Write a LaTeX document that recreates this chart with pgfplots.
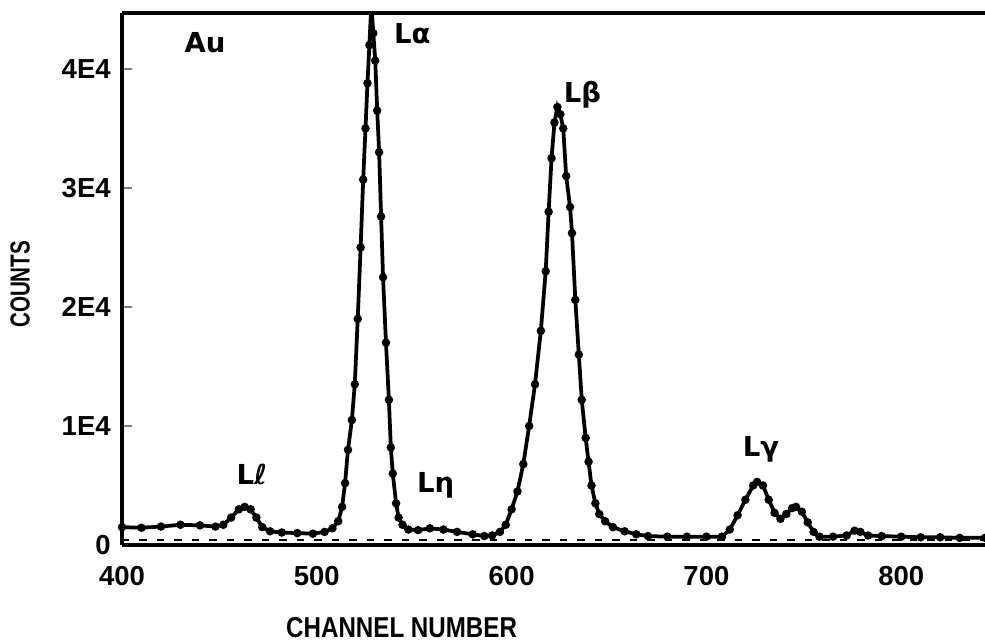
\documentclass[border=0pt]{standalone}
\usepackage{fontspec}
\setmainfont{Liberation Sans}
\newfontfamily\symfont{DejaVu Sans}
\usepackage{graphicx}
\usepackage{pgfplots}
\pgfplotsset{compat=1.18}

% Au L-shell spectrum: counts per channel
\begin{document}
\begin{tikzpicture}[x=1pt,y=1pt]
\useasboundingbox (-48.8,-39.2) rectangle (345.2,218.0);
\begin{axis}[
  scale only axis,
  width=345.2pt, height=212.8pt,
  xmin=400, xmax=843, ymin=0, ymax=44700,
  axis x line*=box, axis y line*=left,
  axis line style={line width=1.4pt},
  xtick={400,500,600,700,800},
  xtick style={draw=none},
  ytick={0,10000,20000,30000,40000},
  yticklabels={0,1E4,2E4,3E4,4E4},
  ytick style={line width=1pt},
  tick align=inside,
  major tick length=4pt,
  scaled y ticks=false,
  /pgf/number format/assume math mode=true,
  tick label style={font=\fontsize{11}{13}\selectfont\bfseries},
  xticklabel style={yshift=-5pt},
  yticklabel style={xshift=-1pt},
  clip mode=individual,
  xlabel={\scalebox{0.84}[1]{CHANNEL NUMBER}},
  xlabel style={at={(axis description cs:0.324,-0.156)}, anchor=center,
    font=\fontsize{11.5}{13}\selectfont\bfseries},
  ylabel={\scalebox{0.75}[1]{COUNTS}},
  ylabel style={at={(axis description cs:-0.118,0.49)}, anchor=center,
    font=\fontsize{11}{13}\selectfont\bfseries},
]
% baseline of the fit
\addplot[black, line width=0.9pt, dash pattern=on 3pt off 4pt] coordinates {(400,450) (843,450)};
% measured spectrum
\addplot[black, line width=1.5pt, mark=*, mark size=0.9pt] coordinates {
(400,1500) (410,1450) (420,1550) (430,1700) (440,1650) (448,1550)
(452,1700) (456,2300) (460,3000) (463,3200) (466,3000) (469,2300)
(472,1500) (476,1150) (482,1050) (490,1000) (498,950) (504,1100)
(508,1400) (511,2000) (513,3200) (514.5,5200) (516,8000) (518,10500)
(519.5,13500) (521,19000) (522.5,25000) (523.8,30700) (525,35000)
(526,38800) (527,42000) (528,45500) (529,43000) (530,40700) (531,36500)
(532,33000) (533,27600) (534,22500) (535.5,17000) (537,12200) (538,8200)
(539,6000) (540.7,3500) (542,2300) (544,1700) (547,1300) (552,1250)
(558,1400) (565,1300) (572,1100) (580,900) (586,750) (590,800)
(594,1100) (597,1700) (600,3000) (603,4500) (606,6800) (609,10000)
(612,13500) (615,18000) (617.5,23000) (619,28000) (620.5,32500)
(622,35500) (623.5,36800) (625,36200) (626.5,35000) (628,31000)
(630,28400) (631,26200) (632.7,20600) (634.5,16000) (636,12200)
(638,9000) (639.5,7000) (641,5000) (643,3500) (645,2600) (648,2000)
(652,1500) (658,1150) (664,900) (670,750) (680,700) (690,700)
(700,700) (708,700) (712,1300) (716,2500) (720,3800) (724,5000)
(726,5300) (729,5000) (732,3800) (735,2700) (738,2200) (741,2600)
(744,3100) (746,3200) (749,2800) (752,1900) (755,1100) (758,700)
(765,700) (772,800) (776,1200) (779,1100) (783,800) (790,750)
(800,700) (810,650) (820,650) (830,600) (843,600)
};
% peak labels
\begin{scope}[every node/.style={font=\fontsize{11}{13}\selectfont\bfseries\symfont}]
\node at (axis cs:442.6,42200) {Au};
\node at (axis cs:549,43000) {Lα};
\node at (axis cs:636.4,37800) {Lβ};
\node at (axis cs:466.7,5900) {Lℓ};
\node at (axis cs:561,5000) {Lη};
\node at (axis cs:728,8000) {Lγ};
\end{scope}
\end{axis}
\end{tikzpicture}
\end{document}
